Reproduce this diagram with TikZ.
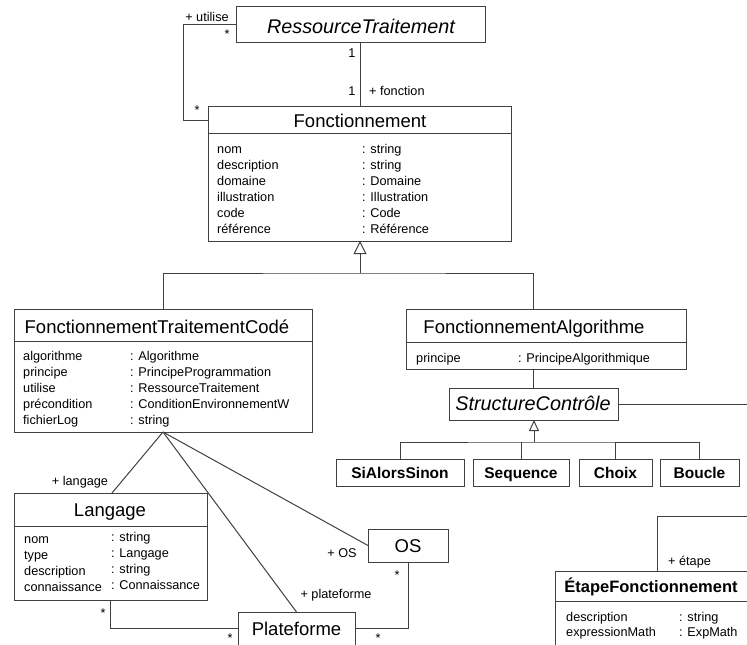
\documentclass[tikz,border=0pt]{standalone}
\usepackage{fontspec}
\setmainfont{Liberation Sans}
\usetikzlibrary{arrows.meta}
\tikzset{
  line/.style={draw=black!75, line width=1pt},
  box/.style={draw=black!75, line width=1pt, fill=white, inner sep=0pt, outer sep=0pt},
  ttl/.style={inner sep=0pt, font=\fontsize{18.5}{20}\selectfont, text height=13.2pt, text depth=0pt},
  ittl/.style={inner sep=0pt, font=\fontsize{19.8}{22}\selectfont\itshape, text height=14pt, text depth=0pt},
  bttl/.style={inner sep=0pt, font=\fontsize{15.5}{18}\selectfont\bfseries, text height=11pt, text depth=0pt},
  ebttl/.style={inner sep=0pt, font=\fontsize{16.5}{18}\selectfont\bfseries, text height=11.8pt, text depth=0pt},
  attr/.style={inner sep=0pt, anchor=base west, font=\fontsize{12.7}{15}\selectfont},
  lbl/.style={inner sep=0pt, anchor=base, font=\fontsize{12.7}{15}\selectfont},
  star/.style={inner sep=0pt, font=\fontsize{12.7}{15}\selectfont},
}
\begin{document}
\begin{tikzpicture}[x=1pt,y=-1pt]
\useasboundingbox (0,0) rectangle (747,645);
\clip (0,0) rectangle (747,645);

% ---------- boxes ----------
\node[box, minimum width=249pt, minimum height=36pt] (RT) at (360.5,24) {};
\node[ittl] (RTt) at (361,27) {RessourceTraitement};

\node[box, minimum width=303pt, minimum height=135pt] (Fonc) at (359.5,173.5) {};
\draw[line] ([yshift=-27pt]Fonc.north west) -- ([yshift=-27pt]Fonc.north east);
\node[ttl] (Font) at (360,121) {Fonctionnement};
\foreach \n/\t [count=\i] in {nom/string, description/string, domaine/Domaine, illustration/Illustration, code/Code, référence/Référence}{
  \node[attr] (fn\i) at (217,{153+16*(\i-1)}) {\n};
  \node[attr] (ft\i) at (362,{153+16*(\i-1)}) {: \t};
}

\node[box, minimum width=298pt, minimum height=123pt] (FTC) at (163,370.5) {};
\draw[line] ([yshift=-32pt]FTC.north west) -- ([yshift=-32pt]FTC.north east);
\node[ttl] (FTCt) at (157,327) {FonctionnementTraitementCodé};
\foreach \n/\t [count=\i] in {algorithme/Algorithme, principe/PrincipeProgrammation, utilise/RessourceTraitement, précondition/ConditionEnvironnementW, fichierLog/string}{
  \node[attr] (cn\i) at (23,{360+16*(\i-1)}) {\n};
  \node[attr] (ct\i) at (130,{360+16*(\i-1)}) {: \t};
}

\node[box, minimum width=280pt, minimum height=60pt] (FA) at (546,339) {};
\draw[line] ([yshift=-33pt]FA.north west) -- ([yshift=-33pt]FA.north east);
\node[ttl] (FAt) at (534,327) {FonctionnementAlgorithme};
\node[attr] (an1) at (416,362) {principe};
\node[attr] (at1) at (518,362) {: PrincipeAlgorithmique};

\node[box, minimum width=169pt, minimum height=32pt] (SC) at (533.5,404) {};
\node[ittl] (SCt) at (533,403) {StructureContrôle};

\node[box, minimum width=128pt, minimum height=27pt] (SiA) at (400,472.5) {};
\node[bttl] (SiAt) at (400,472.5) {SiAlorsSinon};
\node[box, minimum width=96pt, minimum height=27pt] (Seq) at (521,472.5) {};
\node[bttl] (Seqt) at (521,472.5) {Sequence};
\node[box, minimum width=73pt, minimum height=27pt] (Cho) at (615.5,472.5) {};
\node[bttl] (Chot) at (615.5,472.5) {Choix};
\node[box, minimum width=79pt, minimum height=27pt] (Bou) at (699.5,472.5) {};
\node[bttl] (Bout) at (699.5,472.5) {Boucle};

\node[box, minimum width=193pt, minimum height=107pt] (Lang) at (110.5,546.5) {};
\draw[line] ([yshift=-33pt]Lang.north west) -- ([yshift=-33pt]Lang.north east);
\node[ttl] (Langt) at (110,510) {Langage};
\foreach \n/\t [count=\i] in {nom/string, type/Langage, description/string, connaissance/Connaissance}{
  \node[attr] (ln\i) at (24,{543+16*(\i-1)}) {\n};
  \node[attr] (lt\i) at (111,{541+16*(\i-1)}) {: \t};
}

\node[box, minimum width=80pt, minimum height=33pt] (OS) at (408,545.5) {};
\node[ttl] (OSt) at (408,545.5) {OS};

\node[box, minimum width=117pt, minimum height=88pt] (Plat) at (296.5,656) {};
\node[ttl] (Platt) at (296.5,629) {Plateforme};

\node[box, minimum width=245pt, minimum height=129pt] (EF) at (677.5,635.5) {};
\draw[line] ([yshift=-30pt]EF.north west) -- ([yshift=-30pt]EF.north east);
\node[ebttl] (EFt) at (651,587) {ÉtapeFonctionnement};
\node[attr] (en1) at (566,621) {description};
\node[attr] (et1) at (679,621) {: string};
\node[attr] (en2) at (566,636) {expressionMath};
\node[attr] (et2) at (679,636) {: ExpMath};

% ---------- connectors ----------
\coordinate (loopc) at (183,120);
\draw[line] (RT.west) -| (loopc) -- (loopc -| Fonc.west);
\draw[line] (RT.south) -- (RT.south |- Fonc.north);

\coordinate (g1) at (360,273);
\draw[line, -{Triangle[open,length=13pt,width=13pt]}] (g1) -- (g1 |- Fonc.south);
\draw[line] (FTC.north) |- (g1) -| (SC.north |- FA.north);
\draw[line] (SC.north |- FA.south) -- (SC.north);
\coordinate (scout) at (760,404);
\draw[line] (SC.east) -- (scout);

\coordinate (g2) at (534,442);
\draw[line, -{Triangle[open,length=11pt,width=10pt]}] (g2) -- (g2 |- SC.south);
\draw[line] (SiA.north) |- (g2) -| (Bou.north);
\draw[line] (Seq.north) -- (Seq.north |- g2);
\draw[line] (Cho.north) -- (Cho.north |- g2);

\draw[line] (FTC.south) -- ([xshift=98pt]Lang.north west);
\draw[line] (FTC.south) -- (Plat.north);
\draw[line] (FTC.south) -- (OS.west);
\coordinate (pm) at (296.5,628);
\draw[line] (Lang.south) |- (Plat.west |- pm);
\draw[line] (OS.south) |- (Plat.east |- pm);

\coordinate (etc) at (657,516);
\coordinate (etout) at (760,516);
\draw[line] (EF.north -| etc) -- (etc) -- (etout);

% ---------- labels ----------
\node[lbl] (l1) at (207,21) {+ utilise};
\node[star] (s1) at (227,34) {*};
\node[star] (s2) at (197,110) {*};
\node[lbl] (l2) at (352,57) {1};
\node[lbl] (l3) at (352,95) {1};
\node[lbl, anchor=base west] (l4) at (369,95) {+ fonction};
\node[lbl] (l5) at (80,485) {+ langage};
\node[star] (s3) at (103,613) {*};
\node[star] (s4) at (230,638) {*};
\node[lbl] (l6) at (336,598) {+ plateforme};
\node[lbl] (l7) at (342,557) {+ OS};
\node[star] (s5) at (397,575) {*};
\node[star] (s6) at (378,638) {*};
\node[lbl, anchor=base west] (l8) at (668,565) {+ étape};
\end{tikzpicture}
\end{document}
